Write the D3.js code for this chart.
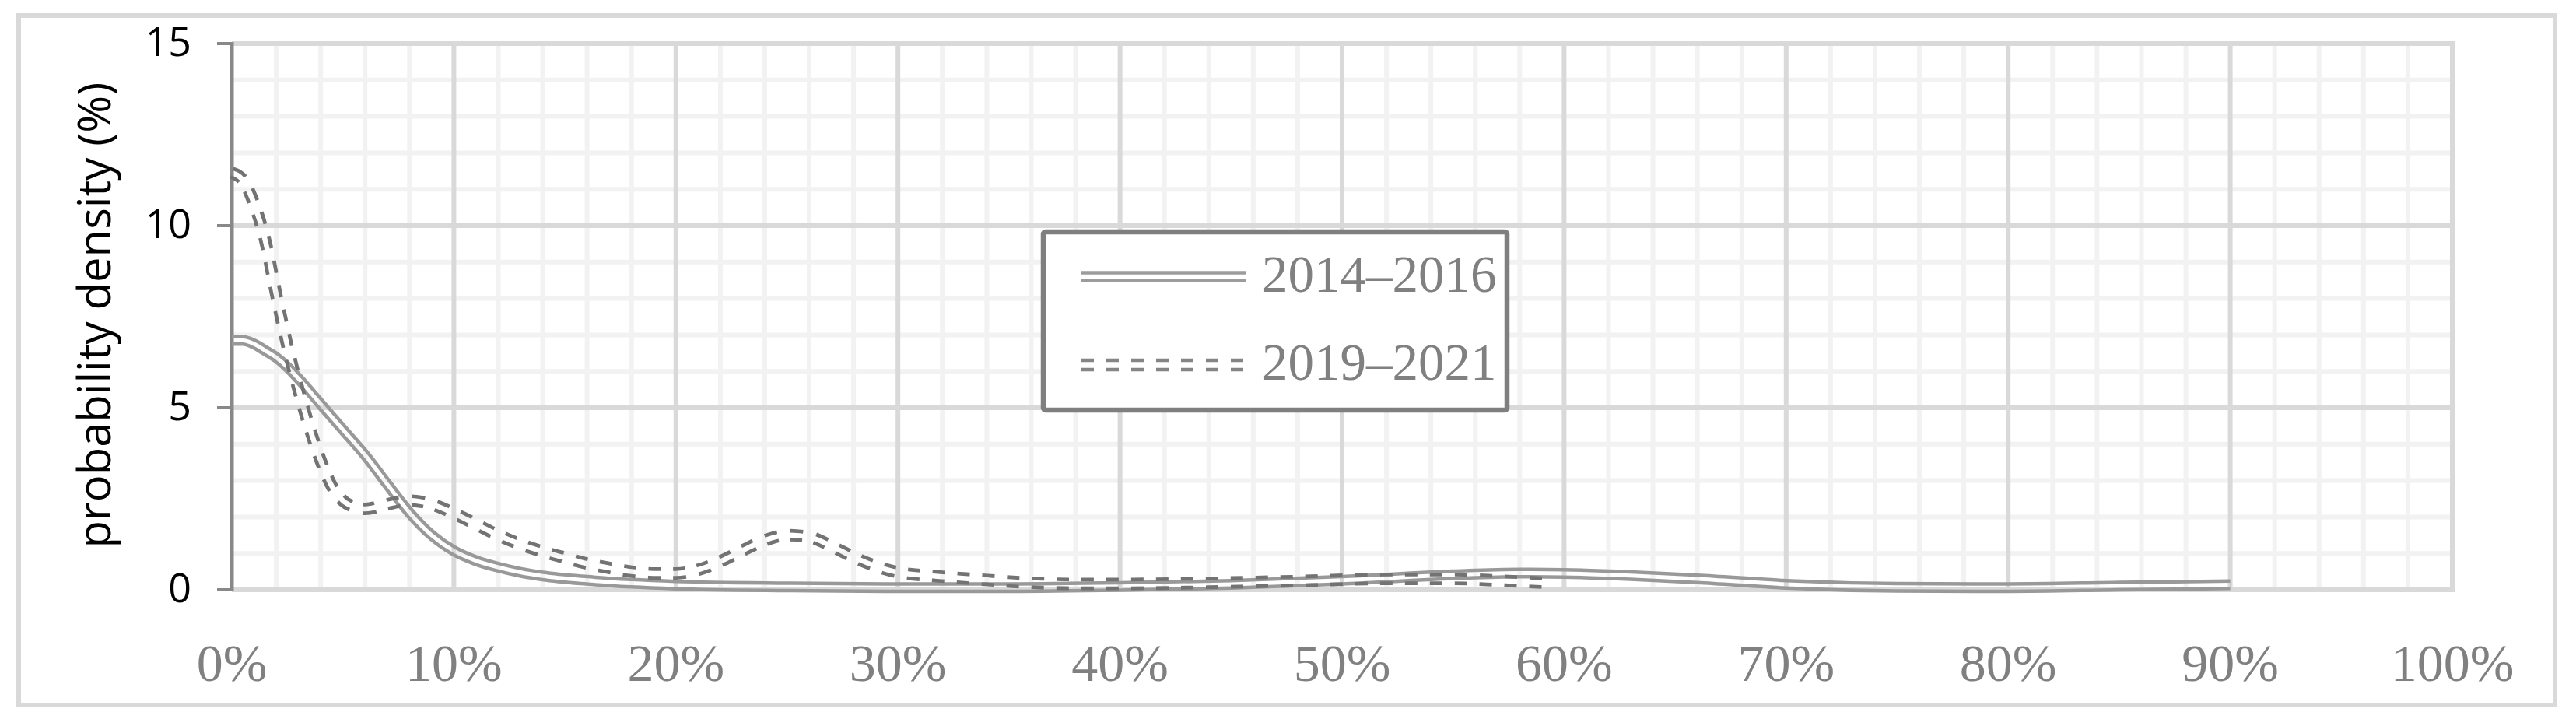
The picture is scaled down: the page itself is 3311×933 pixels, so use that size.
<!DOCTYPE html>
<html><head><meta charset="utf-8">
<script src="https://cdn.jsdelivr.net/npm/d3@7"></script>
<style>html,body{margin:0;padding:0;background:#fff;}svg{display:block;}</style>
</head><body>
<svg id="chart" width="3311" height="933"></svg>
<script>
// ---- data ----
const seriesNames = ["2014\u20132016", "2019\u20132021"];
const xA = [0,0.5,1,1.5,2,2.5,3,4,5,6,7,8,9,10,11,12,13,14,16,18,20,25,30,35,40,45,50,55,58,60,63,66,70,75,80,85,90];
const yA = [6.85,6.85,6.75,6.57,6.38,6.12,5.8,5.1,4.4,3.7,2.9,2.12,1.5,1.07,0.8,0.62,0.48,0.38,0.26,0.18,0.13,0.08,0.06,0.06,0.09,0.15,0.26,0.41,0.46,0.45,0.39,0.3,0.15,0.07,0.06,0.1,0.14];
const xB = [0,0.5,1,1.5,2,2.5,3,3.5,4,4.5,5,5.5,6,7,8,9,10,11,12,13,14,15,16,17,18,19,20,21,22,23,24,25,26,27,28,29,30,32,34,36,38,40,44,48,52,55,57.5,59.5];
const yB = [11.45,11.25,10.6,9.6,8.1,6.7,5.5,4.45,3.55,2.85,2.45,2.28,2.22,2.35,2.45,2.35,2.1,1.8,1.5,1.25,1.05,0.88,0.72,0.6,0.5,0.45,0.45,0.55,0.78,1.08,1.36,1.5,1.45,1.2,0.9,0.65,0.48,0.36,0.27,0.19,0.16,0.16,0.19,0.24,0.3,0.3,0.24,0.18];
const xTicks = [0,10,20,30,40,50,60,70,80,90,100];
const yTicks = [0,5,10,15];
const yLabel = "probability density (%)";

// ---- layout ----
const svg = d3.select("#chart");
const x = d3.scaleLinear().domain([0,100]).range([298,3152]);
const y = d3.scaleLinear().domain([0,15]).range([758,56]);

// outer border
svg.append("rect").attr("x",24).attr("y",20).attr("width",3260).attr("height",886)
  .attr("fill","#fff").attr("stroke","#d9d9d9").attr("stroke-width",6);

// grid
const g = svg.append("g");
const minorX = d3.range(2,100,2).filter(v=>v%10!==0);
const minorY = d3.range(1,15,1).filter(v=>v%5!==0);
g.selectAll(".mx").data(minorX).join("line")
  .attr("x1",d=>x(d)).attr("x2",d=>x(d)).attr("y1",y(15)).attr("y2",y(0))
  .attr("stroke","#f2f2f2").attr("stroke-width",6);
g.selectAll(".my").data(minorY).join("line")
  .attr("x1",x(0)).attr("x2",x(100)).attr("y1",d=>y(d)).attr("y2",d=>y(d))
  .attr("stroke","#f2f2f2").attr("stroke-width",6);
g.selectAll(".Mx").data(xTicks.filter(v=>v>0)).join("line")
  .attr("x1",d=>x(d)).attr("x2",d=>x(d)).attr("y1",y(15)-3).attr("y2",y(0)+3)
  .attr("stroke","#d9d9d9").attr("stroke-width",6);
g.selectAll(".My").data(yTicks).join("line")
  .attr("x1",x(0)).attr("x2",x(100)+3).attr("y1",d=>y(d)).attr("y2",d=>y(d))
  .attr("stroke","#d9d9d9").attr("stroke-width",6);

// y axis
svg.append("line").attr("x1",x(0)).attr("x2",x(0)).attr("y1",y(15)-2).attr("y2",y(0)+2)
  .attr("stroke","#888").attr("stroke-width",5);
svg.selectAll(".yt").data(yTicks).join("line")
  .attr("x1",279).attr("x2",x(0)).attr("y1",d=>y(d)).attr("y2",d=>y(d))
  .attr("stroke","#888").attr("stroke-width",4);
svg.selectAll(".yl").data(yTicks).join("text")
  .attr("x",246).attr("y",d=>y(d)+16).attr("text-anchor","end")
  .attr("font-family","'Open Sans'").attr("font-size",52).attr("fill","#000")
  .text(d=>d);
svg.append("text").attr("transform","translate(142,405) rotate(-90)")
  .attr("text-anchor","middle").attr("font-family","'Open Sans'").attr("font-size",58)
  .attr("fill","#000").text(yLabel);

// x labels
svg.selectAll(".xl").data(xTicks).join("text")
  .attr("x",d=>x(d)).attr("y",875).attr("text-anchor","middle")
  .attr("font-family","'Liberation Serif'").attr("font-size",68).attr("fill","#808080")
  .text(d=>d+"%");

// series (double compound lines via mask)
const line = d3.line().x(d=>x(d[0])).y(d=>y(d[1])).curve(d3.curveMonotoneX);
const series = [
  {name:seriesNames[0], pts:xA.map((v,i)=>[v,yA[i]]), color:"#999", outer:14, inner:5, dash:null},
  {name:seriesNames[1], pts:xB.map((v,i)=>[v,yB[i]]), color:"#737373", outer:16, inner:6.5, dash:"16,16"}
];
const defs = svg.append("defs");
series.forEach((s,i)=>{
  const m = defs.append("mask").attr("id","m"+i).attr("maskUnits","userSpaceOnUse")
    .attr("x",0).attr("y",0).attr("width",3311).attr("height",933);
  m.append("rect").attr("width",3311).attr("height",933).attr("fill","#fff");
  m.append("path").attr("d",line(s.pts)).attr("fill","none").attr("stroke","#000")
    .attr("stroke-width",s.inner);
  svg.append("path").attr("d",line(s.pts)).attr("fill","none").attr("stroke",s.color)
    .attr("stroke-width",s.outer).attr("stroke-dasharray",s.dash).attr("mask","url(#m"+i+")");
});

// legend
const lg = svg.append("g");
lg.append("rect").attr("x",1341).attr("y",298).attr("width",596).attr("height",229).attr("rx",3)
  .attr("fill","#fff").attr("stroke","#7f7f7f").attr("stroke-width",6.5);
const legRows = [{cy:355.5, text:375, off:5, w:4.5, c:"#9c9c9c"}, {cy:469, text:488, off:6, w:4.5, c:"#858585"}];
series.forEach((s,i)=>{
  const r = legRows[i];
  [-r.off, r.off].forEach(o=>{
    lg.append("line").attr("x1",1390).attr("x2",1601).attr("y1",r.cy+o).attr("y2",r.cy+o)
      .attr("stroke",r.c).attr("stroke-width",r.w).attr("stroke-dasharray",s.dash);
  });
  lg.append("text").attr("x",1622).attr("y",r.text).attr("font-family","'Liberation Serif'")
    .attr("font-size",67).attr("fill","#808080").text(s.name);
});
</script>
</body></html>
